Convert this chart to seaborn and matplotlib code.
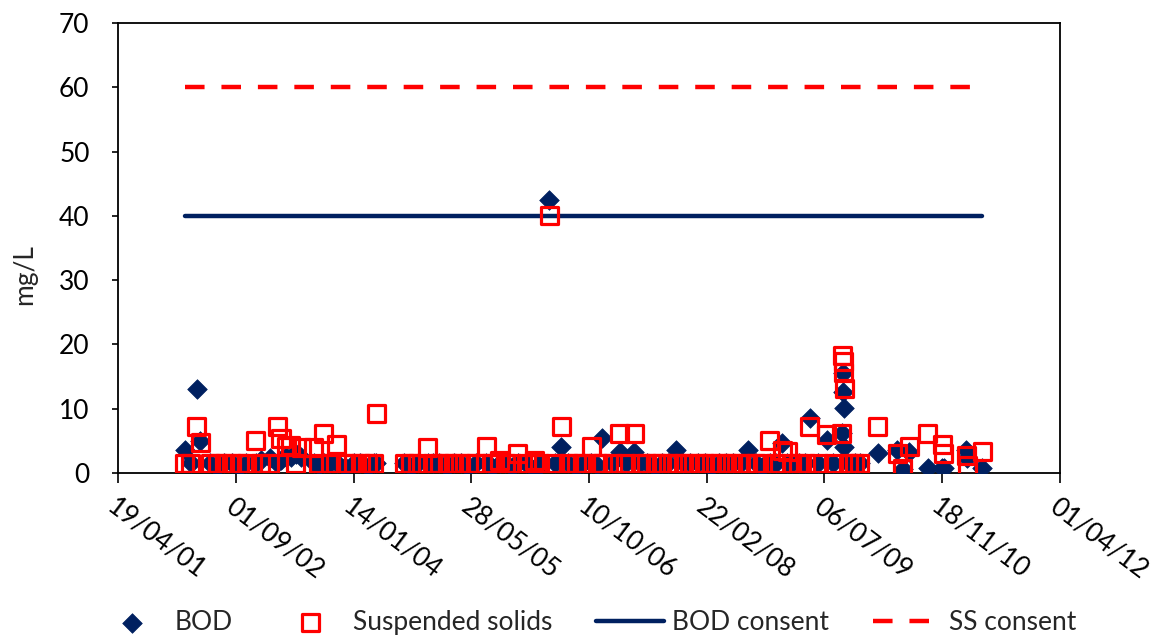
import matplotlib
matplotlib.use("Agg")
import matplotlib.pyplot as plt
import matplotlib.transforms as mtransforms
import pandas as pd
import seaborn as sns

# Effluent sampling results, mg/L
sample_dates = [
    "2002-01-28", "2002-02-22", "2002-03-20", "2002-04-03", "2002-05-15", "2002-06-14",
    "2002-07-15", "2002-08-14", "2002-09-16", "2002-10-15", "2002-11-25", "2002-12-16",
    "2003-01-24", "2003-02-25", "2003-03-12", "2003-04-03", "2003-04-22", "2003-05-14",
    "2003-06-07", "2003-07-30", "2003-08-20", "2003-09-09", "2003-10-08", "2003-11-04",
    "2003-12-10",
    "2004-01-14", "2004-02-12", "2004-03-15", "2004-04-08", "2004-04-20", "2004-08-16",
    "2004-09-14", "2004-10-13", "2004-11-25", "2004-12-15",
    "2005-01-13", "2005-02-14", "2005-03-15", "2005-04-14", "2005-05-16", "2005-06-15",
    "2005-07-31", "2005-08-24", "2005-09-25", "2005-10-19", "2005-11-16", "2005-12-12",
    "2006-01-16", "2006-02-22", "2006-03-15", "2006-04-25", "2006-05-17", "2006-06-15",
    "2006-07-13", "2006-08-16", "2006-09-14", "2006-10-20", "2006-11-15", "2006-12-05",
    "2007-01-17", "2007-02-18", "2007-03-14", "2007-04-20", "2007-05-16", "2007-06-13",
    "2007-07-18", "2007-08-15", "2007-09-12", "2007-10-15", "2007-11-14", "2007-12-12",
    "2008-01-16", "2008-02-13", "2008-03-12", "2008-04-16", "2008-05-14", "2008-06-11",
    "2008-07-16", "2008-08-15", "2008-09-17", "2008-10-15", "2008-11-15", "2008-12-10",
    "2009-01-08", "2009-01-28", "2009-02-18", "2009-03-18", "2009-04-15", "2009-05-05",
    "2009-06-10", "2009-07-15", "2009-08-12", "2009-09-18", "2009-09-21", "2009-09-23",
    "2009-09-25", "2009-09-28", "2009-10-14", "2009-11-11", "2009-12-02",
    "2010-02-18", "2010-05-12", "2010-06-03", "2010-07-01", "2010-09-17", "2010-11-18",
    "2010-11-24",
    "2011-02-28", "2011-03-04", "2011-05-08",
]

bod = [
    3.6, 1.5, 13.0, 5.0, 1.5, 1.0, 1.5, 1.5, 1.0, 1.5, 1.5, 2.0,
    2.3, 1.5, 2.0, 2.5, 2.5, 3.0, 2.5, 1.5, 1.2, 1.5, 1.5, 1.5, 1.0,
    1.5, 1.5, 1.0, 1.5, 1.5, 1.5, 1.0, 1.5, 1.5, 1.5,
    1.5, 1.0, 1.5, 1.5, 1.0, 1.5, 1.5, 1.0, 1.5, 1.5, 1.0, 1.5,
    1.5, 0.5, 1.5, 42.5, 1.5, 4.0, 1.5, 1.0, 1.5, 1.5, 1.2, 5.4,
    1.5, 3.3, 1.5, 3.3, 1.5, 1.5, 1.0, 1.5, 1.5, 3.6, 1.5, 1.5,
    1.5, 1.5, 1.0, 1.5, 1.5, 1.5, 1.5, 3.6, 1.5, 1.0, 1.5, 1.5,
    4.7, 1.5, 1.5, 1.5, 1.5, 8.5, 1.5, 5.1, 1.5, 6.2, 15.5, 12.6, 10.1, 4.0, 1.5, 1.5, 1.5,
    3.1, 3.6, 0.7, 3.3, 0.8, 0.8, 0.8,
    3.6, 2.3, 0.8,
]

suspended_solids = [
    1.5, 1.5, 7.2, 4.8, 1.5, 1.5, 1.5, 1.5, 1.5, 1.5, 5.1, 1.5,
    1.5, 7.2, 5.4, 4.1, 4.3, 1.5, 3.9, 3.9, 1.5, 6.2, 1.5, 4.5, 1.5,
    1.5, 1.5, 1.5, 1.5, 9.2, 1.5, 1.5, 1.5, 3.9, 1.5,
    1.5, 1.5, 1.5, 1.5, 1.5, 1.5, 4.1, 1.5, 2.0, 1.5, 1.5, 3.1,
    1.5, 2.0, 1.5, 40.0, 1.5, 7.2, 1.5, 1.5, 1.5, 4.1, 1.5, 1.5,
    1.5, 6.2, 1.5, 6.2, 1.5, 1.5, 1.5, 1.5, 1.5, 1.5, 1.5, 1.5,
    1.5, 1.5, 1.5, 1.5, 1.5, 1.5, 1.5, 1.5, 1.5, 1.5, 5.1, 1.5,
    3.5, 3.3, 1.5, 1.5, 1.5, 7.2, 1.5, 6.0, 1.5, 6.2, 18.3, 17.3, 15.7, 13.2, 1.5, 1.5, 1.5,
    7.2, 3.1, 0.7, 4.1, 6.2, 4.4, 3.1,
    2.8, 1.2, 3.3,
]

bod_consent = 40
ss_consent = 60

x_tick_labels = ["19/04/01", "01/09/02", "14/01/04", "28/05/05", "10/10/06",
                 "22/02/08", "06/07/09", "18/11/10", "01/04/12"]
y_ticks = [0, 10, 20, 30, 40, 50, 60, 70]

NAVY = "#002060"
RED = "#FF0000"
FONT_SIZE = 19

sns.set_theme(style="white")
plt.rcParams["font.family"] = ["Lato", "DejaVu Sans"]

samples = pd.DataFrame({
    "date": pd.to_datetime(sample_dates),
    "BOD": bod,
    "Suspended solids": suspended_solids,
})
period = samples["date"].iloc[[0, -1]].reset_index(drop=True)
consents = pd.DataFrame({
    "date": period,
    "BOD consent": [bod_consent] * len(period),
    "SS consent": [ss_consent] * len(period),
})

fig = plt.figure(figsize=(11.63, 6.35), dpi=100)
ax = fig.add_axes([0.1015, 0.2551, 0.8099, 0.7087])

sns.scatterplot(data=samples, x="date", y="BOD", marker="D", s=100,
                color=NAVY, edgecolor=NAVY, linewidth=0.5, zorder=3,
                label="BOD", legend=False, ax=ax)
sns.scatterplot(data=samples, x="date", y="Suspended solids", marker="s", s=150,
                color=RED, facecolor="none", edgecolor=RED, linewidth=2.3, zorder=4,
                label="Suspended solids", legend=False, ax=ax)
sns.lineplot(data=consents, x="date", y="BOD consent", color=NAVY, linewidth=3.2,
             zorder=2, label="BOD consent", legend=False, ax=ax)
sns.lineplot(data=consents, x="date", y="SS consent", color=RED, linewidth=3.2,
             linestyle=(0, (4.4, 3.8)), zorder=2, label="SS consent",
             legend=False, ax=ax)

tick_dates = pd.to_datetime(x_tick_labels, format="%d/%m/%y")
ax.set_xlim(tick_dates[0], tick_dates[-1])
ax.set_xticks(tick_dates)
ax.set_xticklabels(x_tick_labels, rotation=-37, ha="left", va="top",
                   rotation_mode="anchor", fontsize=FONT_SIZE)
shift = mtransforms.ScaledTranslation(-2 / 100, 0, fig.dpi_scale_trans)
for lbl in ax.get_xticklabels():
    lbl.set_transform(lbl.get_transform() + shift)

ax.set_ylim(y_ticks[0], y_ticks[-1])
ax.set_yticks(y_ticks)
ax.set_yticklabels([str(v) for v in y_ticks], fontsize=FONT_SIZE)

ax.set_xlabel("")
ax.set_ylabel("mg/L", fontsize=FONT_SIZE)
ax.yaxis.set_label_coords(-0.086, 0.44)

ax.tick_params(axis="x", bottom=True, direction="out", length=7, width=1.2,
               pad=8, colors="black")
ax.tick_params(axis="y", left=True, direction="out", length=4.5, width=1.2,
               pad=16, colors="black")
for spine in ax.spines.values():
    spine.set_visible(True)
    spine.set_color("black")
    spine.set_linewidth(1.3)
ax.grid(False)

handles, labels = ax.get_legend_handles_labels()
fig.legend(handles, labels, loc="center", bbox_to_anchor=(0.505, 0.02),
           ncol=4, frameon=False, fontsize=FONT_SIZE, handlelength=2.6,
           handletextpad=0.3, columnspacing=1.65, scatterpoints=1,
           borderaxespad=0, borderpad=0)

fig.savefig("out.png", dpi=100)
